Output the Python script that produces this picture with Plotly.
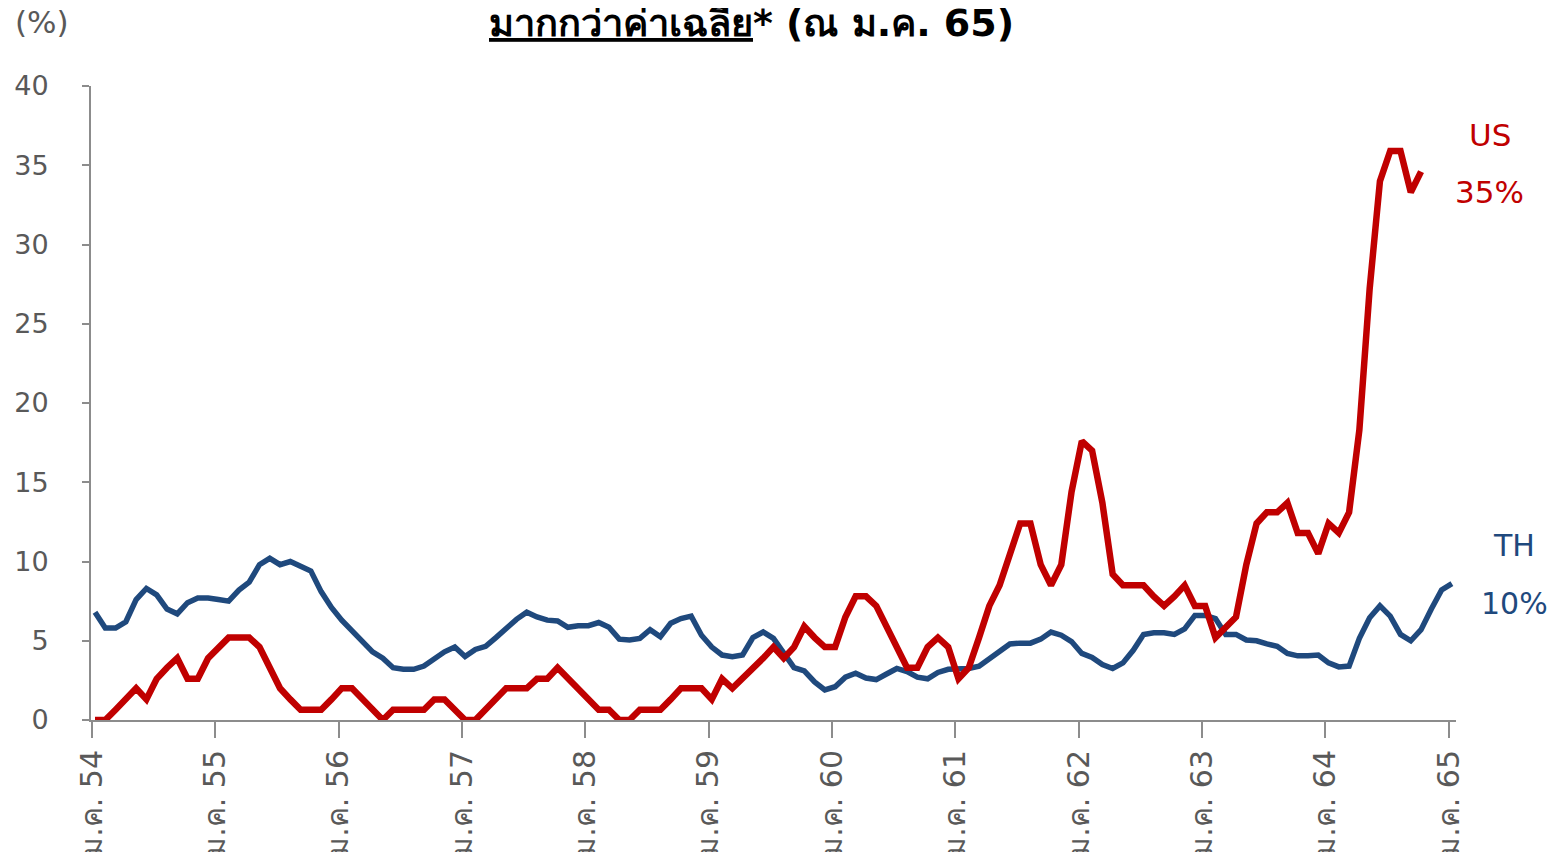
import plotly.graph_objects as go

# Month index 0 = ม.ค. 54 (Jan 2011)
th_values = [6.8, 5.8, 5.8, 6.2, 7.6, 8.3, 7.9, 7.0, 6.7, 7.4, 7.7, 7.7,
             7.6, 7.5, 8.2, 8.7, 9.8, 10.2, 9.8, 10.0, 9.7, 9.4, 8.1, 7.1,
             6.3, 5.6, 4.9, 4.3, 3.9, 3.3, 3.2, 3.2, 3.4, 3.9, 4.3, 4.6,
             4.0, 4.45, 4.65, 5.2, 5.8, 6.35, 6.8, 6.5, 6.3, 6.25, 5.85, 5.95,
             5.95, 6.15, 5.85, 5.1, 5.05, 5.15, 5.7, 5.25, 6.1, 6.4, 6.55, 5.35,
             4.6, 4.1, 4.0, 4.1, 5.2, 5.55, 5.15, 4.2, 3.3, 3.1, 2.4, 1.9,
             2.1, 2.7, 2.95, 2.65, 2.55, 2.9, 3.25, 3.05, 2.7, 2.6, 3.0, 3.2,
             3.2, 3.25, 3.4, 3.9, 4.4, 4.8, 4.85, 4.85, 5.1, 5.55, 5.35, 4.95,
             4.2, 3.95, 3.5, 3.25, 3.6, 4.4, 5.4, 5.5, 5.5, 5.4, 5.75, 6.6,
             6.6, 6.4, 5.4, 5.4, 5.05, 5.0, 4.8, 4.65, 4.2, 4.05, 4.05, 4.1,
             3.6, 3.35, 3.4, 5.15, 6.45, 7.2, 6.55, 5.4, 5.0, 5.7, 7.0, 8.2,
             8.6]

us_values = [0, 0, 0.65, 1.3, 2.0, 1.3, 2.6, 3.3, 3.9, 2.6, 2.6, 3.9,
             4.6, 5.2, 5.2, 5.2, 4.6, 3.3, 2.0, 1.3, 0.65, 0.65, 0.65, 1.3,
             2.0, 2.0, 1.3, 0.65, 0, 0.65, 0.65, 0.65, 0.65, 1.3, 1.3, 0.65,
             0, 0, 0.65, 1.3, 2.0, 2.0, 2.0, 2.6, 2.6, 3.3, 2.6, 2.0,
             1.3, 0.65, 0.65, 0, 0, 0.65, 0.65, 0.65, 1.3, 2.0, 2.0, 2.0,
             1.3, 2.6, 2.0, 2.6, 3.3, 3.9, 4.6, 3.9, 4.6, 5.9, 5.2, 4.6,
             4.6, 6.5, 7.8, 7.8, 7.2, 5.9, 4.6, 3.3, 3.3, 4.6, 5.2, 4.6,
             2.6, 3.3, 5.2, 7.2, 8.5, 10.5, 12.4, 12.4, 9.8, 8.5, 9.8, 14.4,
             17.6, 17.0, 13.7, 9.2, 8.5, 8.5, 8.5, 7.8, 7.2, 7.8, 8.5, 7.2,
             7.2, 5.2, 5.9, 6.5, 9.8, 12.4, 13.1, 13.1, 13.7, 11.8, 11.8, 10.5,
             12.4, 11.8, 13.1, 18.3, 27.2, 34.0, 35.9, 35.9, 33.3, 34.6]

th_months = list(range(len(th_values)))
us_months = list(range(len(us_values)))

tick_months = [0, 12, 24, 36, 48, 60, 72, 84, 96, 108, 120, 132]
tick_labels = ["ม.ค. 54", "ม.ค. 55", "ม.ค. 56", "ม.ค. 57", "ม.ค. 58", "ม.ค. 59",
               "ม.ค. 60", "ม.ค. 61", "ม.ค. 62", "ม.ค. 63", "ม.ค. 64", "ม.ค. 65"]

RED = "#C00000"
BLUE = "#1F497D"
GRAY_AX = "#8C8C8C"
GRAY_TX = "#595959"
FONT = "DejaVu Sans, Tahoma, sans-serif"

fig = go.Figure()
fig.add_trace(go.Scatter(x=th_months, y=th_values, mode="lines", name="TH",
                         line=dict(color=BLUE, width=5.5), showlegend=False))
fig.add_trace(go.Scatter(x=us_months, y=us_values, mode="lines", name="US",
                         line=dict(color=RED, width=6.5), showlegend=False))

tick_offset = -0.3
fig.update_xaxes(range=[-0.39, 132.4],
                 tickvals=[t + tick_offset for t in tick_months], ticktext=tick_labels,
                 tickangle=-90, ticks="outside", ticklen=16, tickwidth=2, tickcolor=GRAY_AX,
                 showline=True, linecolor=GRAY_AX, linewidth=2, showgrid=False, zeroline=False,
                 tickfont=dict(family=FONT, size=30, color=GRAY_TX))
fig.update_yaxes(range=[0, 40], dtick=5, tick0=0,
                 ticks="outside", ticklen=7, tickwidth=2, tickcolor=GRAY_AX,
                 showline=True, linecolor=GRAY_AX, linewidth=2, showgrid=False, zeroline=False,
                 ticklabelstandoff=28,
                 tickfont=dict(family=FONT, size=27, color=GRAY_TX))

ann = [
    dict(text="<b><u>มากกว่าค่าเฉลี่ย</u>* (ณ ม.ค. 65)</b>", x=0.4842, y=1.104,
         font=dict(family=FONT, size=38, color="black")),
    dict(text="(%)", x=-0.0359, y=1.101, font=dict(family=FONT, size=31, color=GRAY_TX)),
    dict(text="US", x=1.0249, y=0.9227, font=dict(family=FONT, size=31, color=RED)),
    dict(text="35%", x=1.0249, y=0.8328, font=dict(family=FONT, size=31, color=RED)),
    dict(text="TH", x=1.0425, y=0.276, font=dict(family=FONT, size=30, color=BLUE)),
    dict(text="10%", x=1.0425, y=0.1845, font=dict(family=FONT, size=30, color=BLUE)),
]
for a in ann:
    fig.add_annotation(xref="paper", yref="paper", showarrow=False,
                       xanchor="center", yanchor="middle", **a)

# the page body adds an 8px offset, so the figure is 8px smaller to fit the window
fig.update_layout(width=1547, height=844,
                  margin=dict(l=83, r=99, t=78, b=132, autoexpand=False),
                  plot_bgcolor="white", paper_bgcolor="white")

fig.write_html("out.html")
